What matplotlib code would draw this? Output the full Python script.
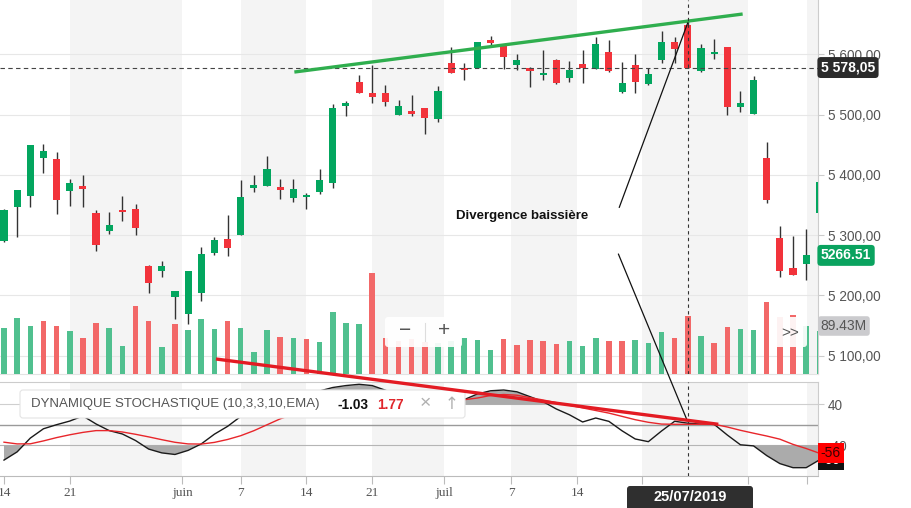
import matplotlib
matplotlib.use("Agg")
import matplotlib.pyplot as plt
import numpy as np
from matplotlib.patches import FancyBboxPatch, ConnectionPatch
from matplotlib.lines import Line2D
from matplotlib.ticker import FuncFormatter
from matplotlib.transforms import IdentityTransform, blended_transform_factory

plt.rcParams['font.family'] = ['Liberation Sans', 'DejaVu Sans']

# Cours (séances du 14/05/2019 au 08/08/2019)
opens = [5291, 5347, 5365, 5428, 5426, 5374, 5382, 5337, 5307, 5342,
         5343, 5249, 5241, 5198, 5170, 5204, 5270, 5294, 5300, 5379,
         5382, 5380, 5362, 5363, 5372, 5387, 5515, 5554, 5536, 5536,
         5500, 5506, 5511, 5493, 5586, 5578, 5578, 5624, 5614, 5583,
         5578, 5565, 5590, 5560, 5584, 5575, 5604, 5538, 5582, 5551,
         5590, 5620, 5649, 5573, 5600, 5612, 5513, 5501, 5428, 5295,
         5246, 5252, 5336]
highs = [5343, 5375, 5450, 5451, 5438, 5394, 5400, 5341, 5338, 5365,
         5351, 5250, 5257, 5207, 5241, 5280, 5297, 5333, 5391, 5399,
         5431, 5394, 5393, 5370, 5409, 5518, 5523, 5566, 5583, 5549,
         5524, 5532, 5511, 5547, 5612, 5586, 5621, 5631, 5614, 5600,
         5579, 5607, 5593, 5589, 5607, 5628, 5623, 5587, 5600, 5577,
         5639, 5628, 5657, 5617, 5625, 5612, 5539, 5564, 5454, 5316,
         5299, 5311, 5389]
lows = [5289, 5297, 5346, 5403, 5335, 5349, 5346, 5274, 5302, 5323,
        5301, 5204, 5231, 5161, 5153, 5191, 5267, 5265, 5300, 5371,
        5381, 5360, 5355, 5343, 5368, 5378, 5498, 5536, 5520, 5515,
        5500, 5498, 5467, 5487, 5569, 5558, 5578, 5615, 5576, 5574,
        5546, 5558, 5551, 5554, 5552, 5575, 5570, 5535, 5535, 5549,
        5585, 5585, 5578, 5570, 5592, 5499, 5504, 5501, 5353, 5231,
        5234, 5226, 5336]
closes = [5342, 5375, 5449, 5440, 5359, 5387, 5377, 5283, 5317, 5338,
          5312, 5221, 5249, 5207, 5241, 5269, 5292, 5279, 5364, 5384,
          5410, 5375, 5377, 5367, 5392, 5511, 5519, 5536, 5530, 5521,
          5515, 5501, 5495, 5539, 5569, 5574, 5620, 5618, 5595, 5590,
          5573, 5569, 5553, 5574, 5578, 5617, 5573, 5552, 5554, 5568,
          5620, 5608, 5578.05, 5610, 5603, 5513, 5519, 5558, 5358, 5241,
          5234, 5266.51, 5389]

# volumes en millions, 1 = barre verte
volumes = [86.3, 104.9, 89.4, 99.3, 89.4, 80.7, 67.6, 95.6, 86.3, 52.2,
           127.2, 99.3, 50.9, 93.7, 82.5, 103.0, 84.4, 99.3, 86.3, 41.5,
           82.5, 69.5, 67.1, 64.6, 60.2, 114.9, 94.5, 92.6, 188.7, 67.6,
           62.0, 66.0, 60.0, 58.0, 62.0, 66.5, 62.8, 44.7, 64.6, 53.5,
           62.8, 60.9, 55.3, 60.9, 51.6, 66.5, 62.0, 62.0, 63.9, 58.3,
           78.8, 67.1, 108.1, 70.8, 58.3, 87.6, 83.8, 82.0, 134.7, 106.7,
           110.0, 89.43, 80.0]
vol_up = [1, 1, 1, 0, 0, 1, 0, 0, 1, 1, 0, 0, 1, 0, 1, 1, 1, 0, 1, 1,
          1, 0, 1, 0, 1, 1, 1, 1, 0, 0, 0, 0, 0, 1, 1, 1, 1, 1, 0, 0,
          0, 0, 0, 1, 1, 1, 0, 0, 1, 1, 1, 0, 0, 1, 0, 0, 1, 1, 0, 0,
          0, 1, 1]

# dynamique stochastique : ligne principale et signal
stoch_k = [-69.2, -53.1, -26.1, -7.8, 0.2, 7.3, 17.3, 1.6, -11.4, -18.0,
           -30.8, -47.6, -55.1, -58.2, -50.2, -37.5, -18.4, -3.1, 16.3, 32.5,
           44.1, 52.5, 57.8, 62.4, 66.3, 73.1, 76.9, 79.4, 76.9, 67.8,
           57.5, 49.6, 44.7, 40.8, 43.7, 49.4, 60.4, 66.7, 68.2, 64.7,
           55.1, 45.3, 31.0, 19.6, 5.5, 13.3, 6.7, -11.8, -27.8, -33.1,
           -12.2, 6.9, 3.1, 1.4, 1.0, -20.0, -39.2, -41.4, -60.4, -76.1,
           -84.1, -84.1, -69.0]
stoch_d = [-34.1, -37.5, -37.3, -31.6, -25.1, -19.6, -14.9, -11.4, -11.4, -14.1,
           -18.6, -23.7, -29.2, -34.3, -37.5, -37.8, -34.5, -28.8, -21.4, -11.6,
           0.0, 11.6, 20.6, 28.0, 32.9, 39.6, 44.1, 47.5, 50.6, 53.1,
           54.5, 55.7, 55.9, 54.1, 52.4, 49.2, 52.5, 57.5, 59.4, 58.0,
           53.3, 48.6, 43.5, 38.2, 33.1, 28.0, 22.9, 16.5, 10.0, 4.9,
           1.4, 1.0, 1.0, 1.0, 1.0, -4.3, -10.8, -16.5, -22.0, -28.2,
           -38.4, -46.5, -55.7]

tick_pos = [0, 5, 13.56, 18, 23, 28, 33.46, 38.58, 43.6, 48.54, 56.6, 61.09]
tick_lbl = ["14", "21", "juin", "7", "14", "21", "juil", "7", "14", "21", "", ""]
price_ticks = [5100, 5200, 5300, 5400, 5500, 5600]

W, H = 911, 508
fig = plt.figure(figsize=(W / 100, H / 100), dpi=100)
PX = IdentityTransform()


def rect(top, bottom):
    return [0, 1 - bottom / H, 818 / W, (bottom - top) / H]


def pbox(x0, y0, x1, y1, z=5, r=3, **kw):
    p = FancyBboxPatch((x0, H - y1), x1 - x0, y1 - y0,
                       boxstyle="round,pad=0,rounding_size=%g" % r,
                       transform=PX, zorder=z, **kw)
    fig.add_artist(p)


def ptext(x, y, s, **kw):
    kw.setdefault('va', 'center')
    fig.text(x, H - y, s, transform=PX, **kw)


ax = fig.add_axes(rect(0, 374))
axv = fig.add_axes(rect(0, 374), sharex=ax)
axi = fig.add_axes(rect(382, 476), sharex=ax)
ax.set_zorder(1)
axv.set_zorder(2)
axv.patch.set_visible(False)

x = np.arange(len(opens))
o = np.array(opens, float)
c = np.array(closes, float)
k = np.array(stoch_k)
d = np.array(stoch_d)

GREEN, RED = '#03a65f', '#f2333b'
VGREEN, VRED = '#50c08f', '#f26868'

# bandes hebdomadaires
starts = tick_pos[1::2]
ends = tick_pos[2::2] + [70]
for a, b in zip(starts, ends):
    ax.axvspan(a, b, color='#f4f4f4', lw=0, zorder=0)
    axi.axvspan(a, b, color='#f4f4f4', lw=0, zorder=0)

for v in price_ticks:
    ax.axhline(v, color='#e7e7e7', lw=0.8, zorder=1)

# chandeliers
cols = [GREEN if cc >= oo else RED for oo, cc in zip(o, c)]
ax.vlines(x, lows, highs, color='#333333', lw=1.0, zorder=2)
ax.bar(x, np.maximum(np.abs(c - o), 1.3), bottom=np.minimum(o, c), width=0.54,
       color=cols, zorder=3)
ax.axhline(5578.05, color='#444444', lw=0.8, ls=(0, (4, 3)), zorder=4)

# volumes
axv.bar(x, volumes, width=0.42, color=[VGREEN if u else VRED for u in vol_up], zorder=2)
axv.axvline(52, color='#333333', lw=0.8, ls=(0, (3, 3)), zorder=4)

# lignes de tendance et annotation
ax.plot([22.08, 56.17], [5570.6, 5666.8], color='#2fae4e', lw=2.4,
        solid_capstyle='butt', zorder=5)
ax.plot([46.79, 51.99], [5346.3, 5651.9], color='#111111', lw=0.9, zorder=5)
ax.text(39.4, 5332, "Divergence baissière", fontsize=9.5, fontweight='bold',
        ha='center', va='center', color='#111111', zorder=6)

ax.set_ylim(5069.8, 5690.05)
axv.set_ylim(0, 696.8)
ax.set_xlim(-0.304, 61.9)

ax.yaxis.tick_right()
ax.set_yticks(price_ticks)
ax.yaxis.set_major_formatter(FuncFormatter(
    lambda v, p: f"{v:,.2f}".replace(",", " ").replace(".", ",")))
ax.tick_params(axis='y', length=4, color='#cccccc', labelcolor='#555555',
               labelsize=9.8, pad=3)
ax.tick_params(axis='x', bottom=False, labelbottom=False)
for s in ['top', 'left']:
    ax.spines[s].set_visible(False)
ax.spines['right'].set_color('#cccccc')
ax.spines['bottom'].set_color('#e3e3e3')
axv.axis('off')

# indicateur
axi.axhline(40, color='#cfcfcf', lw=0.8, zorder=1)
axi.axhline(0, color='#9a9a9a', lw=1.0, zorder=1)
axi.axhline(-40, color='#b5b5b5', lw=0.8, zorder=1)
axi.fill_between(x, k, 40, where=k >= 40, interpolate=True, color='#ababab', lw=0, zorder=2)
axi.fill_between(x, k, -40, where=k <= -40, interpolate=True, color='#ababab', lw=0, zorder=2)
axi.plot(x, k, color='#1a1a1a', lw=1.0, zorder=3)
axi.plot(x, d, color='#e8262b', lw=1.0, zorder=3)
axi.axvline(52, color='#333333', lw=0.8, ls=(0, (3, 3)), zorder=4)
axi.set_ylim(-100.4, 83.9)
axi.yaxis.tick_right()
axi.set_yticks([40, -40])
axi.set_yticklabels(['40', '-40'])
axi.tick_params(axis='y', length=4, color='#cccccc', labelcolor='#555555',
                labelsize=9.8, pad=3)
axi.set_xticks(tick_pos)
axi.set_xticklabels(tick_lbl)
axi.tick_params(axis='x', length=6, color='#bbbbbb', labelcolor='#555555',
                labelsize=9.5, pad=2)
for lab in axi.get_xticklabels():
    lab.set_fontfamily('Liberation Serif')
axi.spines['left'].set_visible(False)
axi.spines['top'].set_color('#cccccc')
axi.spines['right'].set_color('#cccccc')
axi.spines['bottom'].set_color('#bbbbbb')

fig.add_artist(ConnectionPatch((46.72, 5268.8), (51.96, 8.0), coordsA=ax.transData,
                               coordsB=axi.transData, color='#111111', lw=0.9, zorder=6))
fig.add_artist(Line2D([16.12, 54.32], [129.0, 1.0], transform=axi.transData,
                      color='#e31b23', lw=2.4, solid_capstyle='butt', zorder=7))

# étiquettes de l'axe des prix
tr = blended_transform_factory(ax.transAxes, ax.transData)
ax.text(1.0035, 5578.05, "5 578,05", transform=tr, ha='left', va='center', color='white',
        fontweight='bold', fontsize=10, clip_on=False, zorder=10,
        bbox=dict(boxstyle='round,pad=0.25,rounding_size=0.25', fc='#2b2b2b', ec='none'))
ax.text(1.0035, closes[61], "%.2f" % closes[61], transform=tr, ha='left', va='center',
        color='white', fontweight='bold', fontsize=10, clip_on=False, zorder=10,
        bbox=dict(boxstyle='round,pad=0.25,rounding_size=0.25', fc='#0aa35f', ec='none'))
trv = blended_transform_factory(axv.transAxes, axv.transData)
axv.text(1.0035, volumes[61], "%.2fM" % volumes[61], transform=trv, ha='left', va='center',
         color='#555555', fontsize=10, clip_on=False, zorder=10,
         bbox=dict(boxstyle='round,pad=0.2,rounding_size=0.2', fc='#cbcbce', ec='none'))
tri = blended_transform_factory(axi.transAxes, axi.transData)
axi.text(1.0035, k[-1], "%.0f" % k[-1], transform=tri, ha='left', va='center',
         color='white', fontsize=10, clip_on=False, zorder=10,
         bbox=dict(boxstyle='square,pad=0.2', fc='#111111', ec='none'))
axi.text(1.0035, d[-1], "%.0f" % d[-1], transform=tri, ha='left', va='center',
         color='#3b0000', fontsize=10, clip_on=False, zorder=11,
         bbox=dict(boxstyle='square,pad=0.2', fc='#ff0000', ec='none'))

# légende de l'indicateur et boutons
pbox(20, 390, 465, 418, fc='white', ec='#e4e4e4', lw=0.8)
ptext(31, 404, "DYNAMIQUE STOCHASTIQUE (10,3,3,10,EMA)", color='#555555', fontsize=9.5, zorder=6)
ptext(338, 405, "-1.03", color='#111111', fontsize=9.8, fontweight='semibold', zorder=6)
ptext(377, 405, "1.77", color='#e0262b', fontsize=9.8, fontweight='semibold', zorder=6)
ptext(425, 404, "\u00d7", color='#b0b0b0', fontsize=14, ha='center', zorder=6)
ptext(452, 404, "\u2191", color='#b0b0b0', fontsize=12, ha='center', zorder=6,
      fontfamily='DejaVu Sans')

pbox(385, 317, 462, 347, fc='white', ec='none', alpha=0.92)
ptext(405, 331, "\u2212", color='#555555', fontsize=15, ha='center', zorder=6)
ptext(444, 331, "+", color='#555555', fontsize=15, ha='center', zorder=6)
fig.add_artist(Line2D([425, 425], [H - 341, H - 323], transform=PX, color='#dddddd',
                      lw=0.8, zorder=6))
pbox(773, 317, 807, 347, fc='white', ec='none', alpha=0.92)
ptext(790, 333, ">>", color='#555555', fontsize=11, ha='center', zorder=6)

pbox(627, 486, 753, 514, z=8, fc='#2f2f2f', ec='none')
ptext(690, 497, "25/07/2019", color='white', fontsize=10.5, fontweight='bold',
      ha='center', zorder=9)

fig.savefig("out.png", dpi=100, facecolor='white')
